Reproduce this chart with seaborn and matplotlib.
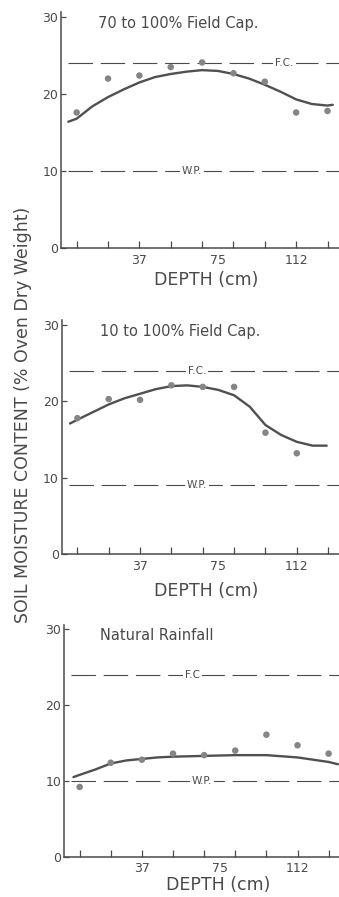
import matplotlib
matplotlib.use("Agg")
import matplotlib.pyplot as plt
import seaborn as sns

# sample depths (cm) and measured moisture (%)
depth = [7.5, 22.5, 37.5, 52.5, 67.5, 82.5, 97.5, 112.5, 127.5]
pts_70 = [17.6, 22.0, 22.4, 23.5, 24.1, 22.7, 21.6, 17.6, 17.8]
pts_10 = [17.8, 20.3, 20.2, 22.1, 21.9, 21.9, 15.9, 13.2]
pts_nat = [9.2, 12.4, 12.8, 13.6, 13.4, 14.0, 16.1, 14.7, 13.6]

# fitted curves
curve_70_x = [3.5, 7.5, 15, 22.5, 30, 37.5, 45, 52.5, 60, 67.5, 75, 82.5, 90, 97.5, 105, 112.5, 120, 127.5, 130]
curve_70_y = [16.4, 16.8, 18.4, 19.6, 20.6, 21.5, 22.2, 22.6, 22.9, 23.1, 23.0, 22.6, 22.0, 21.2, 20.3, 19.3, 18.7, 18.5, 18.6]
curve_10_x = [4, 7.5, 15, 22.5, 30, 37.5, 45, 52.5, 60, 67.5, 75, 82.5, 90, 97.5, 105, 112.5, 120, 126.8]
curve_10_y = [17.1, 17.6, 18.6, 19.6, 20.4, 21.0, 21.6, 22.0, 22.1, 21.9, 21.5, 20.8, 19.3, 16.9, 15.6, 14.7, 14.2, 14.2]
curve_nat_x = [4.5, 7.5, 15, 22.5, 30, 37.5, 45, 52.5, 67.5, 82.5, 97.5, 112.5, 120, 127.5, 132]
curve_nat_y = [10.5, 10.8, 11.5, 12.3, 12.7, 12.9, 13.1, 13.2, 13.3, 13.4, 13.4, 13.1, 12.8, 12.5, 12.2]

titles = ["70 to 100% Field Cap.", "10 to 100% Field Cap.", "Natural Rainfall"]
fc_text = ["F.C.", "F.C.", "F.C"]
fc_level = [24, 24, 24]
wp_level = [10, 9, 10]
depth_ticks = [37.5, 75, 112.5]
depth_labels = ["37", "75", "112"]
y_ticks = [0, 10, 20, 30]

panels = [
    (pts_70, depth, curve_70_x, curve_70_y),
    (pts_10, depth[:8], curve_10_x, curve_10_y),
    (pts_nat, depth, curve_nat_x, curve_nat_y),
]

# layout: [left, bottom, width, height], xmax, label x for F.C. / W.P., title x, xlabel x
rects = [
    [0.180, 0.7235, 0.820, 0.2627],
    [0.182, 0.3824, 0.818, 0.2603],
    [0.189, 0.0449, 0.811, 0.2586],
]
xmax = [133, 132.7, 132.5]
fc_x = [107, 64.7, 62]
wp_x = [62.7, 64.7, 66.5]
title_x = [17.7, 18.3, 17.3]
xlab_x = [0.524, 0.52, 0.56]
xlab_y = [-0.135, -0.16, -0.12]

sns.set_theme(style="white")
plt.rcParams["font.family"] = ["DejaVu Sans"]

ink = "#4a4a4a"
dot = "#858585"

fig = plt.figure(figsize=(3.39, 8.97), dpi=100)
fig.patch.set_facecolor("white")

for i, (pts, px, cx, cy) in enumerate(panels):
    ax = fig.add_axes(rects[i])
    ax.set_facecolor("none")

    ax.hlines(fc_level[i], 3.5, xmax[i], colors=ink, lw=0.8, linestyles=(0, (22, 7)))
    ax.hlines(wp_level[i], 3.5, xmax[i], colors=ink, lw=0.8, linestyles=(0, (22, 7)))
    ax.text(fc_x[i], fc_level[i], fc_text[i], ha="center", va="center", fontsize=7.5, color=ink,
            bbox=dict(facecolor="white", edgecolor="none", pad=1.5))
    ax.text(wp_x[i], wp_level[i], "W.P.", ha="center", va="center", fontsize=7.5, color=ink,
            bbox=dict(facecolor="white", edgecolor="none", pad=1.5))

    sns.lineplot(x=cx, y=cy, ax=ax, sort=False, color="#505050", lw=1.7,
                 solid_joinstyle="round", solid_capstyle="round")
    sns.scatterplot(x=px, y=pts, ax=ax, color=dot, s=22, edgecolor="none", zorder=3)

    ax.text(title_x[i], 29.2, titles[i], ha="left", va="center", fontsize=10.5, color=ink)

    ax.set_xlim(0, xmax[i])
    ax.set_ylim(0, 30.6)
    ax.set_yticks(y_ticks)
    ax.set_yticklabels([str(v) for v in y_ticks])
    ax.set_xticks(depth_ticks)
    ax.set_xticklabels(depth_labels)
    ax.set_xticks(depth, minor=True)
    ax.xaxis.remove_overlapping_locs = False
    ax.tick_params(axis="x", which="major", length=0, pad=4, labelsize=9, labelcolor=ink)
    ax.tick_params(axis="x", which="minor", direction="in", length=5, width=0.9, color=ink, bottom=True)
    ax.tick_params(axis="y", direction="in", length=3.5, width=0.9, color=ink, pad=2,
                   labelsize=9, labelcolor=ink, left=True)

    for side in ["top", "right"]:
        ax.spines[side].set_visible(False)
    for side in ["left", "bottom"]:
        ax.spines[side].set_color(ink)
        ax.spines[side].set_linewidth(1.1)

    ax.set_xlabel("DEPTH (cm)", fontsize=12.5, color=ink)
    ax.xaxis.label.set_va("center")
    ax.xaxis.set_label_coords(xlab_x[i], xlab_y[i])
    ax.set_ylabel("")
    ax.grid(False)

fig.text(0.068, 0.538, "SOIL MOISTURE CONTENT (% Oven Dry Weight)", rotation=90,
         ha="center", va="center", fontsize=12.5, color=ink)

fig.savefig("out.png", dpi=100, facecolor="white")
